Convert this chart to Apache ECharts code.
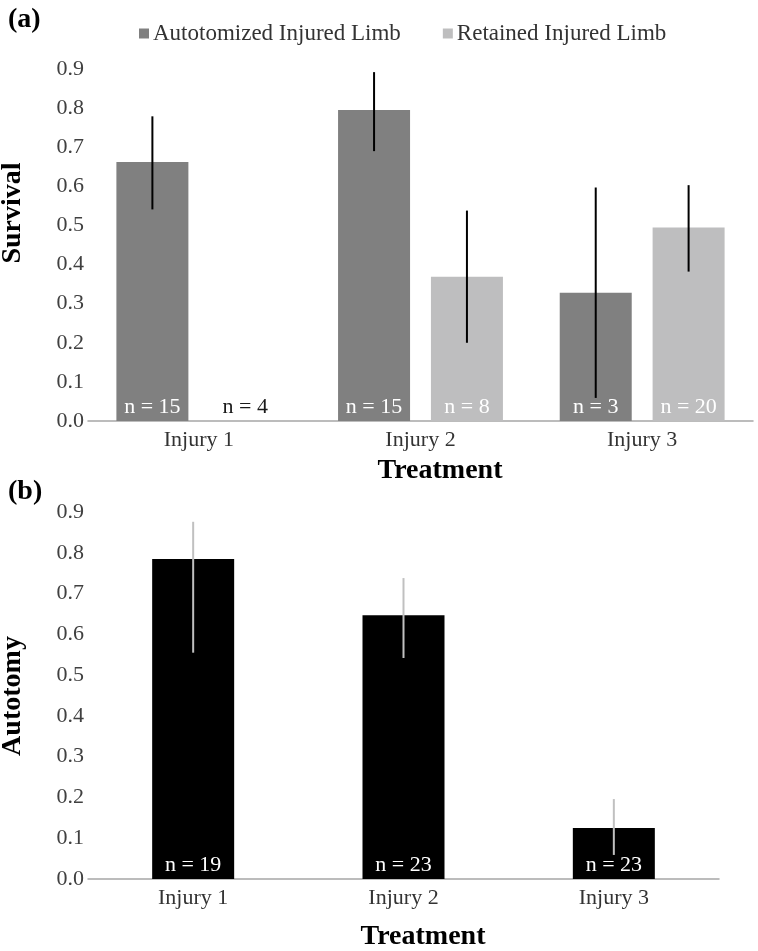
<!DOCTYPE html>
<html>
<head>
<meta charset="utf-8">
<script src="https://cdn.jsdelivr.net/npm/echarts@6/dist/echarts.min.js"></script>
<style>
html,body{margin:0;padding:0;background:#fff;}
#chart{width:758px;height:951px;}
</style>
</head>
<body>
<div id="chart"></div>
<script>
// ---- data ----
var categories = ['Injury 1', 'Injury 2', 'Injury 3'];
var yTicks = [0.0, 0.1, 0.2, 0.3, 0.4, 0.5, 0.6, 0.7, 0.8, 0.9];

// panel (a): survival
var autoSurvival = [0.662, 0.795, 0.328];
var autoSurvLow = [0.541, 0.690, 0.059];
var autoSurvHigh = [0.779, 0.892, 0.597];
var autoN = [15, 15, 3];

var retSurvival = [0, 0.369, 0.495];
var retSurvLow = [null, 0.200, 0.382];
var retSurvHigh = [null, 0.538, 0.603];
var retN = [4, 8, 20];

// panel (b): autotomy
var autotomy = [0.785, 0.647, 0.125];
var autotomyLow = [0.555, 0.542, 0.059];
var autotomyHigh = [0.876, 0.738, 0.196];
var autotomyN = [19, 23, 23];

// ---- styling ----
var FONT = 'Liberation Serif';
var C_AUTO = '#808080';
var C_RET = '#bebebf';
var BW_A = 72, GAP_A = '29%';
var BW_B = 82;

function errSeries(name, xi, yi, low, high, color, count, idx, bw, gap) {
  var data = [];
  for (var i = 0; i < low.length; i++) {
    if (low[i] != null) data.push([i, low[i], high[i]]);
  }
  return {
    type: 'custom', name: name, xAxisIndex: xi, yAxisIndex: yi, z: 5,
    silent: true,
    data: data,
    renderItem: function (params, api) {
      var c = api.value(0);
      var pLo = api.coord([c, api.value(1)]);
      var pHi = api.coord([c, api.value(2)]);
      var off = 0;
      if (count > 1) {
        var lay = api.barLayout({ count: count, barWidth: bw, barGap: gap });
        off = lay[idx].offsetCenter;
      }
      return {
        type: 'line',
        shape: { x1: pLo[0] + off, y1: pLo[1], x2: pHi[0] + off, y2: pHi[1] },
        style: { stroke: color, lineWidth: 2 }
      };
    }
  };
}

var xAxisCommon = {
  type: 'category',
  data: categories,
  axisLine: { lineStyle: { color: '#a6a6a6', width: 1.5 } },
  axisTick: { inside: true, length: 6, lineStyle: { color: '#a6a6a6', width: 1 } },
  axisLabel: { fontFamily: FONT, fontSize: 22, color: '#333', margin: 8 }
};
var yAxisCommon = {
  type: 'value', min: 0, max: 0.9, interval: 0.1,
  axisLine: { show: false }, axisTick: { show: false },
  splitLine: { show: false },
  axisLabel: {
    fontFamily: FONT, fontSize: 22, color: '#404040', margin: 4,
    formatter: function (v) {
      for (var i = 0; i < yTicks.length; i++) {
        if (Math.abs(yTicks[i] - v) < 1e-6) return yTicks[i].toFixed(1);
      }
      return '';
    }
  }
};

var option = {
  backgroundColor: '#fff',
  animation: false,
  textStyle: { fontFamily: FONT },
  legend: {
    left: 134, top: 17,
    itemWidth: 10, itemHeight: 10, itemGap: 42,
    icon: 'rect',
    textStyle: { fontFamily: FONT, fontSize: 23, color: '#333', padding: [0, 0, 0, -1] },
    data: ['Autotomized Injured Limb', 'Retained Injured Limb']
  },
  grid: [
    { left: 88, right: 5, top: 69, height: 352 },
    { left: 88, right: 39, top: 512, height: 367 }
  ],
  xAxis: [
    Object.assign({ gridIndex: 0 }, xAxisCommon),
    Object.assign({ gridIndex: 1 }, xAxisCommon)
  ],
  yAxis: [
    Object.assign({ gridIndex: 0 }, yAxisCommon),
    Object.assign({ gridIndex: 1 }, yAxisCommon)
  ],
  series: [
    {
      name: 'Autotomized Injured Limb', type: 'bar', xAxisIndex: 0, yAxisIndex: 0,
      data: autoSurvival, barWidth: BW_A, barGap: GAP_A,
      itemStyle: { color: C_AUTO },
      label: {
        show: true, position: 'insideBottom', distance: 3,
        fontFamily: FONT, fontSize: 22, color: '#fff',
        formatter: function (p) { return 'n = ' + autoN[p.dataIndex]; }
      }
    },
    {
      name: 'Retained Injured Limb', type: 'bar', xAxisIndex: 0, yAxisIndex: 0,
      data: retSurvival.map(function (v, i) {
        return v === 0 ? { value: v, label: { color: '#1a1a1a' } } : v;
      }),
      barWidth: BW_A, barGap: GAP_A,
      itemStyle: { color: C_RET },
      label: {
        show: true, position: 'insideBottom', distance: 3,
        fontFamily: FONT, fontSize: 22, color: '#fff',
        formatter: function (p) { return 'n = ' + retN[p.dataIndex]; }
      }
    },
    errSeries('errA1', 0, 0, autoSurvLow, autoSurvHigh, '#000', 2, 0, BW_A, GAP_A),
    errSeries('errA2', 0, 0, retSurvLow, retSurvHigh, '#000', 2, 1, BW_A, GAP_A),
    {
      name: 'Autotomy', type: 'bar', xAxisIndex: 1, yAxisIndex: 1,
      data: autotomy, barWidth: BW_B,
      itemStyle: { color: '#000' },
      label: {
        show: true, position: 'insideBottom', distance: 3,
        fontFamily: FONT, fontSize: 22, color: '#fff',
        formatter: function (p) { return 'n = ' + autotomyN[p.dataIndex]; }
      }
    },
    errSeries('errB', 1, 1, autotomyLow, autotomyHigh, '#c0c0c0', 1, 0, BW_B, 0)
  ],
  graphic: [
    { type: 'text', left: 8, top: 6, style: { text: '(a)', font: 'bold 28px "Liberation Serif"', fill: '#000' } },
    { type: 'text', left: 8, top: 478, style: { text: '(b)', font: 'bold 28px "Liberation Serif"', fill: '#000' } },
    { type: 'text', x: 13, y: 213, rotation: Math.PI / 2,
      style: { text: 'Survival', font: 'bold 28px "Liberation Serif"', fill: '#000', align: 'center', verticalAlign: 'middle' } },
    { type: 'text', x: 13, y: 696, rotation: Math.PI / 2,
      style: { text: 'Autotomy', font: 'bold 28px "Liberation Serif"', fill: '#000', align: 'center', verticalAlign: 'middle' } },
    { type: 'text', x: 440, y: 471,
      style: { text: 'Treatment', font: 'bold 28px "Liberation Serif"', fill: '#000', align: 'center', verticalAlign: 'middle' } },
    { type: 'text', x: 423, y: 937,
      style: { text: 'Treatment', font: 'bold 28px "Liberation Serif"', fill: '#000', align: 'center', verticalAlign: 'middle' } }
  ]
};

var chart = echarts.init(document.getElementById('chart'), null, { renderer: 'canvas' });
chart.setOption(option);
</script>
</body>
</html>
